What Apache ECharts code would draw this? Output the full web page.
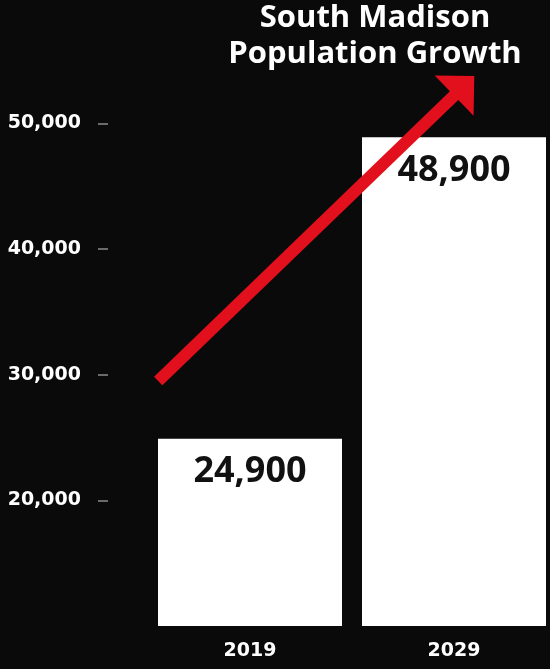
<!DOCTYPE html>
<html>
<head>
<meta charset="utf-8">
<script src="https://cdn.jsdelivr.net/npm/echarts@6/dist/echarts.min.js"></script>
<style>
html,body{margin:0;padding:0;background:#0b0a0a;}
#chart{width:550px;height:669px;}
</style>
</head>
<body>
<div id="chart"></div>
<script>
const titleLines = ['South Madison', 'Population Growth'];
const categories = ['2019', '2029'];
const population = [24900, 48900];
const yTickValues = [20000, 30000, 40000, 50000];
// growth arrow, in data space (x: 0..2 across the two category bands, y: population)
const arrowStart = [0.05, 29500];
const arrowEnd = [1.55, 53000];

const chart = echarts.init(document.getElementById('chart'), null, {renderer: 'canvas'});
const RED = '#e2101c';
const Y_MIN = 10000, Y_MAX = 58000;
chart.setOption({
  backgroundColor: '#0b0a0a',
  animation: false,
  title: {
    text: titleLines.join('\n'),
    left: 370,
    top: -5,
    textAlign: 'center',
    textStyle: {
      color: '#ffffff',
      fontFamily: 'Open Sans',
      fontWeight: 'bold',
      fontSize: 31,
      lineHeight: 36
    }
  },
  grid: [
    {left: 148, width: 408, top: 23, bottom: 43, containLabel: false, outerBoundsMode: 'none'},
    {left: 108, width: 1, top: 23, bottom: 43, containLabel: false, outerBoundsMode: 'none'}
  ],
  xAxis: [{
    type: 'category',
    gridIndex: 0,
    data: categories,
    axisLine: {show: false},
    axisTick: {show: false},
    axisLabel: {
      color: '#ffffff',
      fontFamily: 'DejaVu Sans',
      fontWeight: 'bold',
      fontSize: 19,
      margin: 16
    }
  }, {
    type: 'value',
    gridIndex: 0,
    min: 0,
    max: 2,
    show: false
  }, {
    type: 'value',
    gridIndex: 1,
    min: 0,
    max: 1,
    show: false
  }],
  yAxis: [{
    type: 'value',
    gridIndex: 0,
    min: Y_MIN,
    max: Y_MAX,
    interval: 10000,
    show: false
  }, {
    type: 'value',
    gridIndex: 1,
    min: Y_MIN,
    max: Y_MAX,
    interval: 10000,
    splitLine: {show: false},
    axisLine: {show: false},
    axisTick: {
      show: true,
      length: 10,
      customValues: yTickValues,
      lineStyle: {color: '#8a8a8a', width: 1.5}
    },
    axisLabel: {
      customValues: yTickValues,
      color: '#ffffff',
      fontFamily: 'DejaVu Sans',
      fontWeight: 'bold',
      fontSize: 19,
      margin: 27,
      formatter: v => v.toLocaleString('en-US')
    }
  }],
  series: [{
    type: 'bar',
    xAxisIndex: 0,
    yAxisIndex: 0,
    data: population,
    barWidth: 184,
    itemStyle: {color: '#ffffff'},
    label: {
      show: true,
      position: 'insideTop',
      distance: 15,
      color: '#111111',
      fontFamily: 'Open Sans',
      fontWeight: 'bold',
      fontSize: 36,
      formatter: p => p.value.toLocaleString('en-US')
    },
    z: 2
  }, {
    type: 'line',
    xAxisIndex: 1,
    yAxisIndex: 0,
    data: [arrowStart, arrowEnd],
    showSymbol: false,
    symbol: 'none',
    lineStyle: {opacity: 0, width: 0},
    silent: true,
    z: 3,
    markLine: {
      silent: true,
      symbol: ['none', 'triangle'],
      symbolSize: [56, 28],
      label: {show: false},
      lineStyle: {color: RED, width: 12, type: 'solid', cap: 'butt', opacity: 1},
      data: [[{coord: arrowStart}, {coord: arrowEnd}]]
    }
  }]
});
</script>
</body>
</html>
